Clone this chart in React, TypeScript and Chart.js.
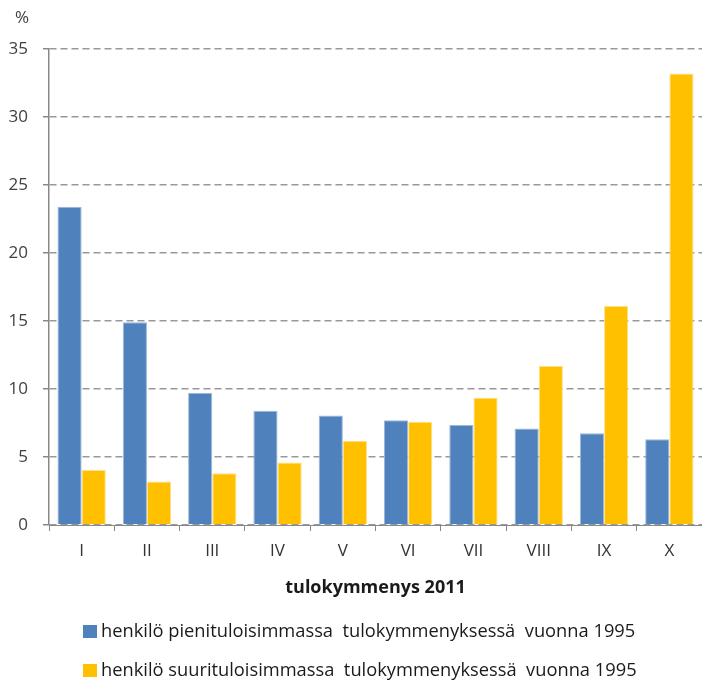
import { useEffect, useRef } from "react";
import { Chart, registerables } from "chart.js";

Chart.register(...registerables);

const categories = ["I", "II", "III", "IV", "V", "VI", "VII", "VIII", "IX", "X"];
const lowIncome1995 = [23.4, 14.9, 9.7, 8.4, 8.05, 7.7, 7.35, 7.1, 6.75, 6.3];
const highIncome1995 = [4.05, 3.2, 3.8, 4.6, 6.2, 7.6, 9.35, 11.7, 16.1, 33.2];
const seriesLabels = [
  "henkilö pienituloisimmassa  tulokymmenyksessä  vuonna 1995",
  "henkilö suurituloisimmassa  tulokymmenyksessä  vuonna 1995",
];
const seriesColors = ["#4F81BD", "#FFC000"];
const seriesBorders = ["#9DB7DA", "#FFE08A"];
const xAxisTitle = "tulokymmenys 2011";
const yUnit = "%";
const yMin = 0;
const yMax = 35;
const yStep = 5;

const FONT = "'Open Sans', 'Liberation Sans', Arial, sans-serif";

const extrasPlugin = {
  id: "extras",
  afterDraw(chart: any) {
    const ctx = chart.ctx;
    ctx.save();
    ctx.font = `17px ${FONT}`;
    ctx.fillStyle = "#404040";
    ctx.textAlign = "center";
    ctx.textBaseline = "middle";
    ctx.fillText(yUnit, 22, 18);
    const rows = [632, 671];
    chart.data.datasets.forEach((ds: any, i: number) => {
      const y = rows[i];
      ctx.fillStyle = ds.backgroundColor;
      ctx.fillRect(83, y - 7, 14, 13);
      ctx.fillStyle = "#1a1a1a";
      ctx.textAlign = "left";
      ctx.font = `18.3px ${FONT}`;
      ctx.fillText(ds.label, 101, y);
    });
    ctx.restore();
  },
};

export default function App() {
  const ref = useRef<HTMLCanvasElement | null>(null);
  useEffect(() => {
    document.body.style.margin = "0";
    const chart = new Chart(ref.current!, {
      type: "bar",
      data: {
        labels: categories,
        datasets: [lowIncome1995, highIncome1995].map((d, i) => ({
          label: seriesLabels[i],
          data: d,
          backgroundColor: seriesColors[i],
          borderColor: seriesBorders[i],
          borderWidth: 1,
          categoryPercentage: 0.74,
          barPercentage: 1,
        })),
      },
      options: {
        animation: false,
        responsive: false,
        layout: { padding: { top: 49, right: 0, bottom: 85, left: 8 } },
        plugins: { legend: { display: false }, tooltip: { enabled: false } },
        scales: {
          x: {
            grid: {
              drawOnChartArea: false,
              drawTicks: true,
              tickLength: 6,
              color: "#888",
              offset: true,
            },
            border: { color: "#888", width: 1 },
            ticks: { color: "#333", font: { family: FONT, size: 17 }, padding: 10 },
            title: {
              display: true,
              text: xAxisTitle,
              color: "#1a1a1a",
              font: { family: FONT, size: 18, weight: "bold" },
              padding: { top: 6, bottom: 0 },
            },
          },
          y: {
            min: yMin,
            max: yMax,
            afterFit: (scale: any) => {
              scale.width = 41;
            },
            ticks: {
              stepSize: yStep,
              color: "#404040",
              font: { family: FONT, size: 17 },
              padding: 15,
            },
            grid: {
              color: "#999",
              lineWidth: 1.5,
              tickLength: 6,
              tickColor: "#888",
              tickBorderDash: [],
            },
            border: { color: "#888", width: 1.5, dash: [7, 4] },
          },
        },
      },
      plugins: [extrasPlugin],
    });
    return () => chart.destroy();
  }, []);
  return (
    <div style={{ width: 702, height: 684 }}>
      <canvas ref={ref} width={702} height={684} style={{ display: "block" }} />
    </div>
  );
}
